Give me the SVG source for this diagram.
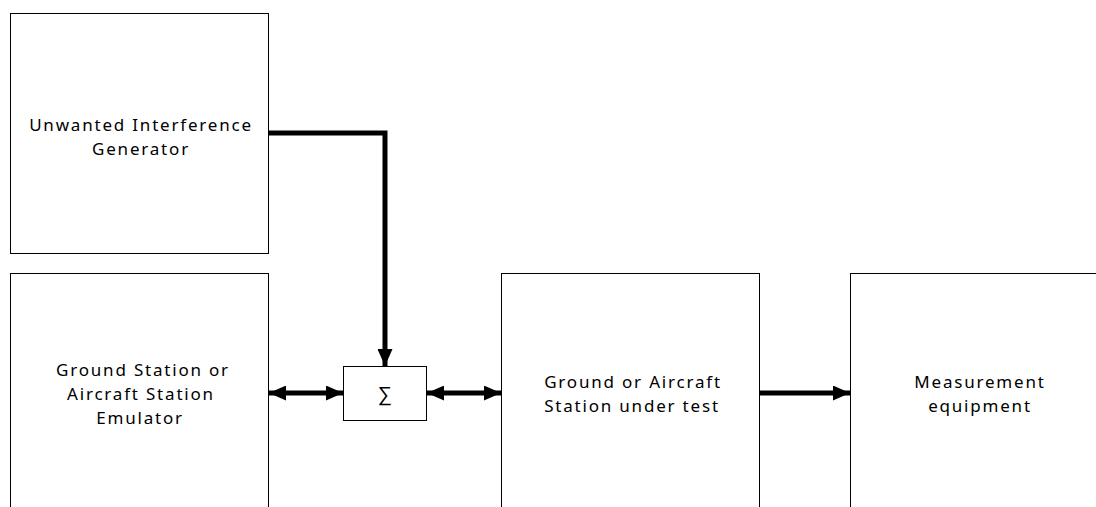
<svg xmlns="http://www.w3.org/2000/svg" width="1096" height="507" viewBox="0 0 1096 507">
<style>
.box{fill:#fff;stroke:#000;stroke-width:1}
.t{font-family:"Noto Sans",sans-serif;font-size:17px;letter-spacing:1.8px;text-anchor:middle;fill:#000}
.c{fill:none;stroke:#000;stroke-width:5}
</style>
<defs>
<marker id="ah" viewBox="0 0 17 15" refX="17" refY="7.5" markerWidth="17" markerHeight="15" orient="auto-start-reverse" markerUnits="userSpaceOnUse"><path d="M0,0 L17,7.5 L0,15 z" fill="#000"/></marker>
</defs>
<rect width="1096" height="507" fill="#fff"/>
<g id="uig"><rect class="box" x="10.5" y="13.5" width="258" height="240"/>
<text class="t" x="141" y="131">Unwanted Interference</text>
<text class="t" x="141" y="155">Generator</text></g>
<g id="gse"><rect class="box" x="10.5" y="273.5" width="258" height="240"/>
<text class="t" x="143" y="376">Ground Station or</text>
<text class="t" x="141" y="400">Aircraft Station</text>
<text class="t" x="140" y="424">Emulator</text></g>
<g id="sum"><rect class="box" x="343.5" y="366.5" width="83" height="54"/>
<text class="t" x="385" y="401" style="letter-spacing:0;font-size:20px">∑</text></g>
<g id="gut"><rect class="box" x="501.5" y="273.5" width="258" height="240"/>
<text class="t" x="633" y="388">Ground or Aircraft</text>
<text class="t" x="632" y="412">Station under test</text></g>
<g id="meas"><rect class="box" x="850.5" y="273.5" width="260" height="240"/>
<text class="t" x="980" y="388">Measurement</text>
<text class="t" x="980" y="412">equipment</text></g>
<g id="connectors">
<path class="c" d="M269,133 H385 V366" marker-end="url(#ah)"/>
<path class="c" d="M269,393 H343" marker-start="url(#ah)" marker-end="url(#ah)"/>
<path class="c" d="M427,393 H501" marker-start="url(#ah)" marker-end="url(#ah)"/>
<path class="c" d="M760,393 H850" marker-end="url(#ah)"/>
</g>
</svg>
